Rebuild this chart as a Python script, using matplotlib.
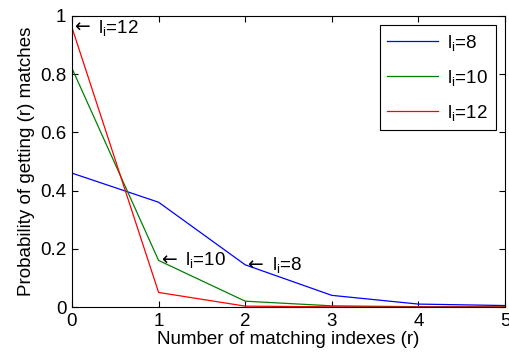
import matplotlib
matplotlib.use('Agg')
import matplotlib.pyplot as plt

plt.rcParams['font.family'] = ['Liberation Sans', 'DejaVu Sans']
plt.rcParams['mathtext.fontset'] = 'custom'
plt.rcParams['mathtext.rm'] = 'Liberation Sans'
plt.rcParams['mathtext.it'] = 'Liberation Sans'

r = [0, 1, 2, 3, 4, 5]
p_l8 = [0.46, 0.36, 0.145, 0.04, 0.01, 0.005]
p_l10 = [0.82, 0.16, 0.02, 0.004, 0.001, 0.0005]
p_l12 = [0.96, 0.05, 0.003, 0.0005, 0.0002, 0.0001]
labels = [r'l$_\mathregular{i}$=8', r'l$_\mathregular{i}$=10', r'l$_\mathregular{i}$=12']

FS = 13.5

fig = plt.figure(figsize=(5.1, 3.54), dpi=100)
ax = fig.add_axes([72 / 510, 47 / 354, 433 / 510, 291 / 354])

ax.plot(r, p_l8, color='#0000ff', linewidth=0.9, label=labels[0])
ax.plot(r, p_l10, color='#008000', linewidth=0.9, label=labels[1])
ax.plot(r, p_l12, color='#ff0000', linewidth=0.9, label=labels[2])

ax.set_xlim(0, 5)
ax.set_ylim(0, 1)
ax.set_xticks(r)
ax.set_yticks([0, 0.2, 0.4, 0.6, 0.8, 1])
ax.set_yticklabels(['0', '0.2', '0.4', '0.6', '0.8', '1'])
ax.tick_params(direction='in', top=True, right=True, labelsize=FS, length=4, pad=4)
for s in ax.spines.values():
    s.set_linewidth(0.8)

ax.set_xlabel('Number of matching indexes (r)', fontsize=FS, labelpad=1)
ax.set_ylabel('Probability of getting (r) matches', fontsize=FS, labelpad=4)

# arrow annotations pointing at curves (arrow glyph + label)
for x, y, lab in [(r[0], p_l12[0], labels[2]), (r[1], p_l10[1], labels[1]), (r[2], p_l8[2], labels[0])]:
    ax.annotate('\u2190', (x, y), xytext=(1.5, 0), textcoords='offset points',
                fontsize=FS, family='DejaVu Sans', va='center', ha='left')
    ax.annotate(lab, (x, y), xytext=(19, 0), textcoords='offset points',
                fontsize=FS, va='center', ha='left')

leg = ax.legend(loc='upper right', fontsize=FS, fancybox=False, edgecolor='black',
                framealpha=1, handlelength=2.7, handletextpad=0.5,
                borderaxespad=0.5, labelspacing=0.8)
leg.get_frame().set_linewidth(0.8)

fig.savefig('out.png', dpi=100)
